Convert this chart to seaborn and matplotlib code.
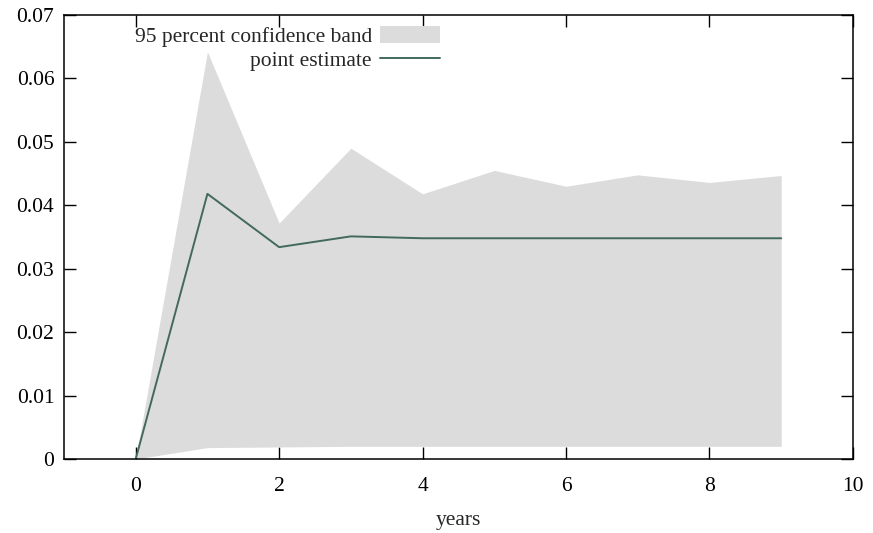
import numpy as np
import pandas as pd
import matplotlib
matplotlib.use("Agg")
import matplotlib.pyplot as plt
import seaborn as sns
from matplotlib.patches import Patch
from matplotlib.lines import Line2D

# datos
years = [0, 1, 2, 3, 4, 5, 6, 7, 8, 9]
estimate = [0.0, 0.0418, 0.0334, 0.0351, 0.0348, 0.0348, 0.0348, 0.0348, 0.0348, 0.0348]
upper = [0.0, 0.0642, 0.0372, 0.0490, 0.0418, 0.0455, 0.0430, 0.0448, 0.0436, 0.0447]
lower = [0.0, 0.0018, 0.0019, 0.0020, 0.0020, 0.0020, 0.0020, 0.0020, 0.0020, 0.0020]
yticks = [0, 0.01, 0.02, 0.03, 0.04, 0.05, 0.06, 0.07]
ytick_labels = ["0", "0.01", "0.02", "0.03", "0.04", "0.05", "0.06", "0.07"]
xticks = [0, 2, 4, 6, 8, 10]

df = pd.DataFrame({"years": years, "estimate": estimate, "upper": upper, "lower": lower})

sns.set_theme(style="ticks")
plt.rcParams["font.family"] = ["Liberation Serif", "DejaVu Serif"]

band_color = "#dcdcdc"
line_color = "#43695d"
fs = 15.5

fig = plt.figure(figsize=(8.73, 5.33), dpi=100)
ax = fig.add_axes([0.0733, 0.1388, 0.9037, 0.8331])

ax.fill_between(df["years"], df["lower"], df["upper"], color=band_color, linewidth=0)
sns.lineplot(data=df, x="years", y="estimate", color=line_color, linewidth=1.4, ax=ax)

ax.set_xlim(-1, 10)
ax.set_ylim(0, 0.07)
ax.set_xticks(xticks)
ax.set_yticks(yticks)
ax.set_yticklabels(ytick_labels)
ax.set_xlabel("years", fontsize=fs, labelpad=11)
ax.set_ylabel("")

ax.tick_params(direction="in", length=8.5, width=1, top=True, right=True,
               labelsize=fs, colors="black")
ax.tick_params(axis="x", pad=13)
ax.tick_params(axis="y", pad=7)
for s in ax.spines.values():
    s.set_visible(True)
    s.set_linewidth(1.1)
    s.set_color("black")

handles = [Patch(facecolor=band_color, edgecolor="none"),
           Line2D([], [], color=line_color, linewidth=1.4)]
labels = ["95 percent confidence band", "point estimate"]
ax.legend(handles, labels, loc="upper right", bbox_to_anchor=(0.4766, 0.975),
          frameon=False, markerfirst=False, fontsize=fs,
          handlelength=2.8, handleheight=0.8, handletextpad=0.37,
          labelspacing=0.15, borderaxespad=0, borderpad=0)

fig.savefig("out.png", dpi=100)
